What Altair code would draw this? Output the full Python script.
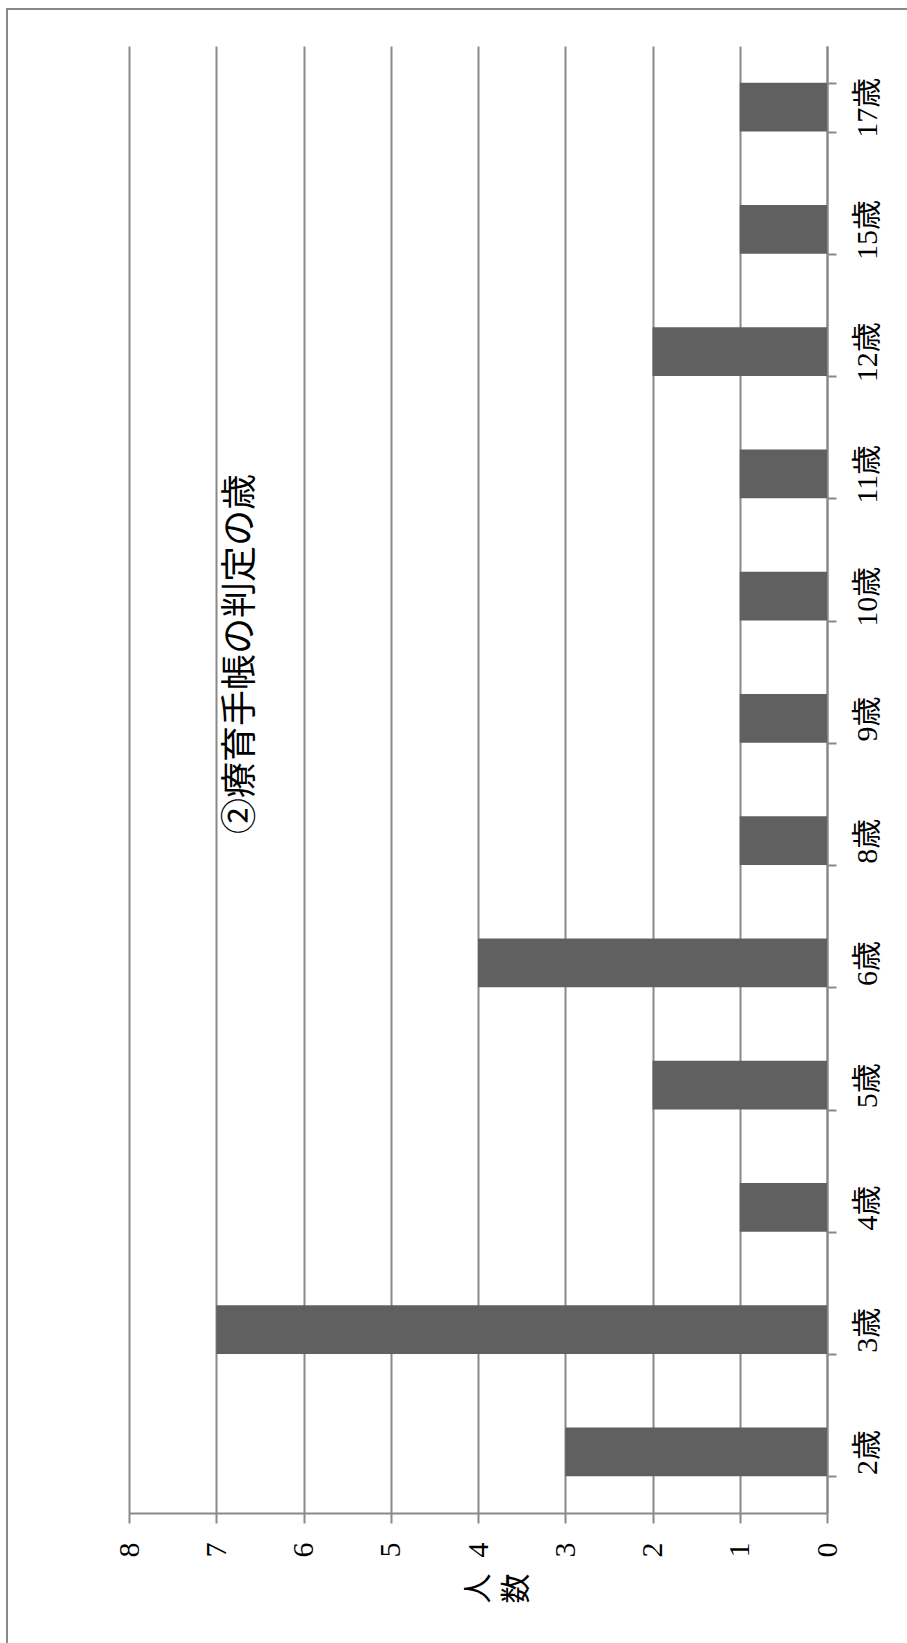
import altair as alt
import pandas as pd

# data
ages = ["2歳", "3歳", "4歳", "5歳", "6歳", "8歳", "9歳", "10歳", "11歳", "12歳", "15歳", "17歳"]
counts = [3, 7, 1, 2, 4, 1, 1, 1, 1, 2, 1, 1]
title_text = "②療育手帳の判定の歳"
value_ticks = [0, 1, 2, 3, 4, 5, 6, 7, 8]

FONT = "Liberation Serif, Noto Sans CJK JP"
GRID = "#898989"
BAR = "#606060"
LW = 2

df = pd.DataFrame({"age": ages, "count": counts})

bars = alt.Chart(df).mark_bar(color=BAR).encode(
    y=alt.Y(
        "age:N",
        sort=list(reversed(ages)),
        scale=alt.Scale(paddingInner=0.6, paddingOuter=0.3),
        axis=alt.Axis(
            orient="right",
            title=None,
            grid=False,
            tickBand="extent",
            domainColor=GRID,
            domainWidth=LW,
            tickColor=GRID,
            tickWidth=LW,
            tickSize=9,
            labelAngle=270,
            labelAlign="center",
            labelBaseline="middle",
            labelPadding=31,
            labelFont=FONT,
            labelFontSize=30,
            labelColor="#000000",
        ),
    ),
    x=alt.X(
        "count:Q",
        scale=alt.Scale(domain=[0, 8], reverse=True, nice=False),
        axis=alt.Axis(
            orient="bottom",
            values=value_ticks,
            grid=True,
            gridColor=GRID,
            gridWidth=LW,
            domainColor=GRID,
            domainWidth=LW,
            tickColor=GRID,
            tickWidth=LW,
            tickSize=10,
            labelAngle=270,
            labelAlign="right",
            labelBaseline="middle",
            labelPadding=19,
            labelFont=FONT,
            labelFontSize=30,
            labelColor="#000000",
            title=["人", "数"],
            titleAngle=270,
            titleAlign="center",
            titleBaseline="middle",
            titleX=349,
            titleY=75,
            titleFont=FONT,
            titleFontSize=30,
            titleFontWeight="normal",
            titleColor="#000000",
            titleLineHeight=38,
        ),
    ),
)

title_mark = alt.Chart(pd.DataFrame({"t": [title_text]})).mark_text(
    angle=270,
    align="center",
    baseline="middle",
    font=FONT,
    fontSize=36,
    color="#000000",
).encode(
    text="t:N",
    x=alt.value(112),
    y=alt.value(608),
)

border = alt.Chart(pd.DataFrame({"a": [0]})).mark_rect(
    fillOpacity=0,
    stroke=GRID,
    strokeWidth=2,
).encode(
    x=alt.value(-122),
    x2=alt.value(800),
    y=alt.value(-37),
    y2=alt.value(1620),
)

chart = alt.layer(border, bars, title_mark).properties(
    width=698,
    height=1467,
    autosize=alt.AutoSizeParams(type="none"),
    padding={"left": 129, "top": 46, "right": 80, "bottom": 130},
    background="#ffffff",
).configure_view(strokeWidth=0)

chart.save("out.html", embed_options={"renderer": "svg", "actions": False})
